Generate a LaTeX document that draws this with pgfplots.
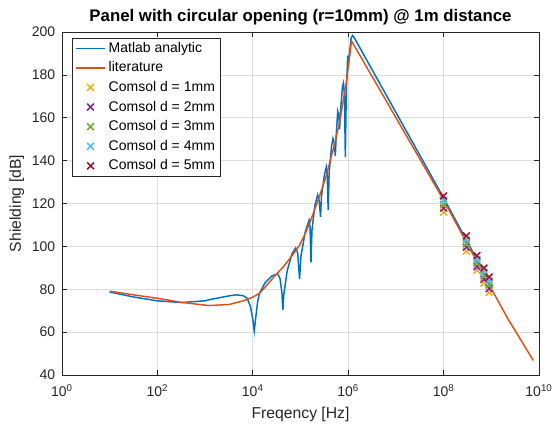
\documentclass[border=0pt]{standalone}
\usepackage{pgfplots}
\pgfplotsset{compat=1.18}
\usepackage{fontspec}
\setmainfont{Liberation Sans}
\definecolor{mblue}{rgb}{0,0.447,0.741}
\definecolor{morange}{rgb}{0.85,0.325,0.098}
\definecolor{myellow}{rgb}{0.929,0.694,0.125}
\definecolor{mpurple}{rgb}{0.494,0.184,0.556}
\definecolor{mgreen}{rgb}{0.466,0.674,0.188}
\definecolor{mcyan}{rgb}{0.301,0.745,0.933}
\definecolor{mred}{rgb}{0.635,0.078,0.184}
\definecolor{axgray}{rgb}{0.15,0.15,0.15}
\definecolor{gridgray}{rgb}{0.87,0.87,0.87}
\pgfplotsset{
  mylegline/.style={legend image code/.code={\draw[##1] (0cm,0cm) -- (0.78cm,0cm);}},
  mylegmark/.style={legend image code/.code={\draw[mark repeat=2,mark phase=2,##1] plot coordinates {(0cm,0cm) (0.39cm,0cm) (0.78cm,0cm)};}},
}
\begin{document}
\begin{tikzpicture}
\begin{axis}[
  scale only axis,
  width=357.75pt, height=257.25pt,
  xmode=log,
  xmin=1, xmax=1e10, ymin=40, ymax=200,
  xtick={1,100,10000,1000000,100000000,10000000000},
  xticklabels={10\textsuperscript{0},10\textsuperscript{2},10\textsuperscript{4},10\textsuperscript{6},10\textsuperscript{8},10\textsuperscript{10}},
  ytick={40,60,80,100,120,140,160,180,200},
  minor xtick={}, 
  /pgf/number format/assume math mode=true,
  tick label style={font=\fontsize{10.5}{12}\selectfont, text=axgray},
  xticklabel style={yshift=-3.5pt},
  yticklabel style={xshift=-1.5pt},
  label style={font=\fontsize{11.8}{13}\selectfont, text=axgray},
  title style={font=\fontsize{12.6}{14}\selectfont\bfseries, yshift=-4pt},
  title={Panel with circular opening (r=10mm) @ 1m distance},
  xlabel={Freqency [Hz]},
  ylabel={Shielding [dB]},
  xlabel style={yshift=-1pt},
  ylabel style={yshift=-1pt},
  tick align=inside,
  major tick length=4pt,
  minor tick length=0pt,
  axis line style={axgray, line width=0.6pt},
  every tick/.style={axgray, line width=0.5pt},
  grid=major,
  major grid style={gridgray, line width=0.5pt},
  legend cell align=left,
  legend style={at={(0.021,0.983)}, anchor=north west, draw=axgray, line width=0.5pt,
    font=\fontsize{10.5}{12}\selectfont, inner xsep=2pt, inner ysep=1pt,
    row sep=1.6pt},
]
\addplot[mblue, line width=1.1pt, mylegline] coordinates {
(10,78.7) (31.6,76.4) (100,74.6) (316,73.8) (1000,74.6) (1259,75.2) (3162,76.9) (4467,77.4) (6310,77.0) (7586,75.8) (8913,72)
(10000,66) (10715,60.5) (11482,66.5) (12589,74) (13804,78.1) (17783,82.8) (25119,86.2) (33113,87.2) (37154,85) (40738,78.5)
(42658,70.4) (44668,77.5) (52481,88.5) (66069,96.5) (79433,99.3) (87096,97) (95499,84.8) (102329,95.5) (125893,106.8) (151356,112.2)
(158489,109) (165959,92.5) (173780,107.5) (199526,119) (229087,124) (245471,121.5) (263027,113.8) (275423,123.5) (316228,133)
(346737,137) (363078,133.5) (380189,117) (398107,134) (446684,146.5) (478630,150.3) (512861,148) (537032,142.1) (562341,152.5)
(602560,163) (630957,161.5) (660693,154.6) (691831,163.5) (758578,174.5) (794328,176.2) (831764,171) (870964,141.8) (912011,172.5)
(977237,189) (1023293,186) (1071519,190.5) (1148154,197) (1230269,198.4) (1318257,197.6) (100000000,122.6) (1047128548,80.6)
};
\addlegendentry{Matlab analytic}
\addplot[morange, line width=1.1pt, mylegline] coordinates {
(10,79.1) (31.6,77.4) (100,75.8) (316,73.9) (1000,72.6) (1259,72.4) (3162,72.9) (6310,74.6) (10000,76.3) (13804,78.2)
(19953,82) (28184,86) (42658,90.2) (63096,95) (95499,100.5) (125893,106) (165959,112.5) (251189,123.5) (346737,133)
(501187,146.5) (660693,158) (912011,176.5) (1047129,187) (1174898,195.8) (100000000,121.6) (1000000000,80.3)
(2187762188,66.5) (7585775750,46.8)
};
\addlegendentry{literature}
\addplot[only marks, mark=x, mark size=3.6pt, line width=1.2pt, myellow, mylegmark] coordinates {
(1e8,116.0) (3e8,97.8) (5e8,88.8) (7e8,82.9) (9e8,78.6)};
\addlegendentry{Comsol d = 1mm}
\addplot[only marks, mark=x, mark size=3.6pt, line width=1.2pt, mpurple, mylegmark] coordinates {
(1e8,117.8) (3e8,99.6) (5e8,90.5) (7e8,84.6) (9e8,80.3)};
\addlegendentry{Comsol d = 2mm}
\addplot[only marks, mark=x, mark size=3.6pt, line width=1.2pt, mgreen, mylegmark] coordinates {
(1e8,119.6) (3e8,101.3) (5e8,92.2) (7e8,86.3) (9e8,82.0)};
\addlegendentry{Comsol d = 3mm}
\addplot[only marks, mark=x, mark size=3.6pt, line width=1.2pt, mcyan, mylegmark] coordinates {
(1e8,121.5) (3e8,103.1) (5e8,93.9) (7e8,88.0) (9e8,83.8)};
\addlegendentry{Comsol d = 4mm}
\addplot[only marks, mark=x, mark size=3.6pt, line width=1.2pt, mred, mylegmark] coordinates {
(1e8,123.5) (3e8,104.9) (5e8,95.7) (7e8,89.9) (9e8,85.7)};
\addlegendentry{Comsol d = 5mm}
\end{axis}
\pgfresetboundingbox
\path[use as bounding box] (-46.5pt,-42.75pt) rectangle (372.75pt,281.25pt);
\end{tikzpicture}
\end{document}
